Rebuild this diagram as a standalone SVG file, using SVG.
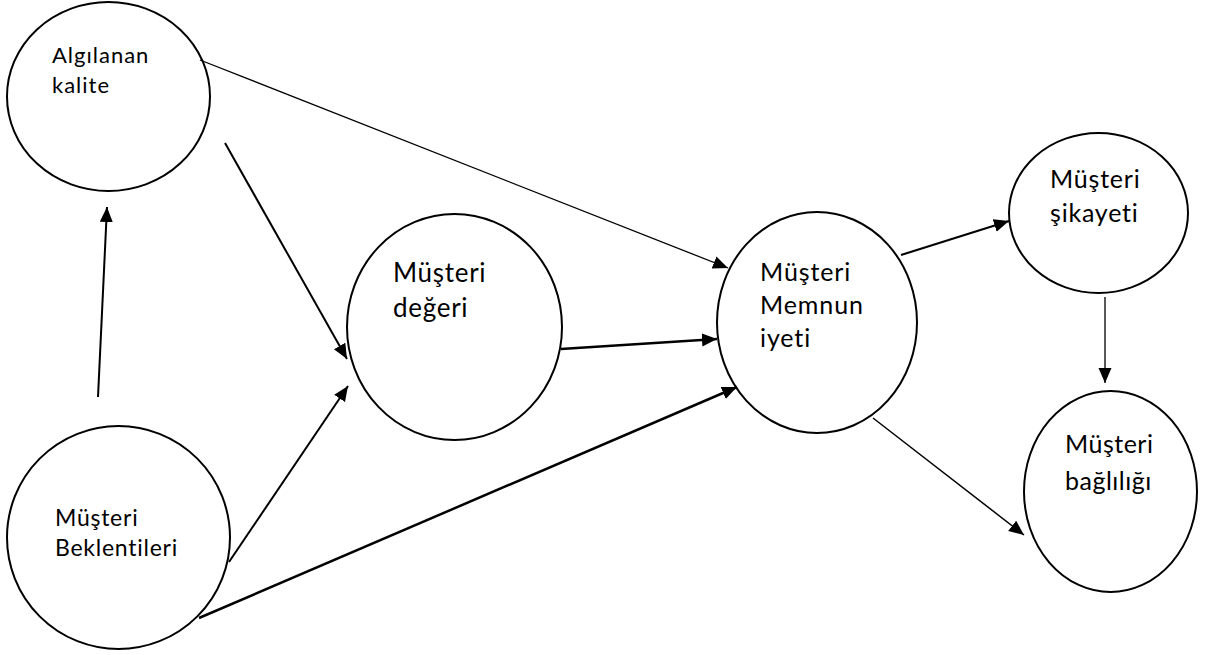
<svg xmlns="http://www.w3.org/2000/svg" width="1226" height="655" viewBox="0 0 1226 655">
<style>
.node ellipse{fill:#fff;stroke:#000;stroke-width:2}
.node text{font-family:Lato,"Liberation Sans",sans-serif;fill:#000}
#connectors line{stroke:#000;fill:none}
</style>
<defs>
<marker id="ah" markerUnits="userSpaceOnUse" markerWidth="16" markerHeight="14" refX="15" refY="6.5" orient="auto">
<path d="M0,0 L15,6.5 L0,13 z" fill="#000"/>
</marker>
</defs>
<rect width="1226" height="655" fill="#fff"/>
<g id="n-algilanan" class="node">
<ellipse cx="108.5" cy="96.5" rx="101.5" ry="94.5"/>
<text font-size="22" letter-spacing="1"><tspan x="52" y="63">Algılanan</tspan><tspan x="52" y="93">kalite</tspan></text>
</g>
<g id="n-beklentiler" class="node">
<ellipse cx="118.5" cy="537.5" rx="111.5" ry="111.5"/>
<text font-size="23" letter-spacing="0.75"><tspan x="55" y="526">Müşteri</tspan><tspan x="55" y="556">Beklentileri</tspan></text>
</g>
<g id="n-deger" class="node">
<ellipse cx="454.5" cy="327" rx="107.5" ry="113"/>
<text font-size="26" letter-spacing="0.7"><tspan x="393" y="282">Müşteri</tspan><tspan x="393" y="317">değeri</tspan></text>
</g>
<g id="n-memnuniyet" class="node">
<ellipse cx="817" cy="322.5" rx="100" ry="110.5"/>
<text font-size="25" letter-spacing="0.9"><tspan x="760" y="281">Müşteri</tspan><tspan x="760" y="314">Memnun</tspan><tspan x="760" y="347">iyeti</tspan></text>
</g>
<g id="n-sikayet" class="node">
<ellipse cx="1098.5" cy="213" rx="89.5" ry="80"/>
<text font-size="25" letter-spacing="0.8"><tspan x="1050" y="188">Müşteri</tspan><tspan x="1050" y="222">şikayeti</tspan></text>
</g>
<g id="n-baglilik" class="node">
<ellipse cx="1110.5" cy="491.5" rx="86.5" ry="100.5"/>
<text font-size="25" letter-spacing="0.5"><tspan x="1065" y="453">Müşteri</tspan><tspan x="1065" y="490">bağlılığı</tspan></text>
</g>
<g id="connectors">
<line x1="98" y1="397" x2="107" y2="207" stroke-width="2" marker-end="url(#ah)"/>
<line x1="225" y1="143" x2="347" y2="359" stroke-width="2" marker-end="url(#ah)"/>
<line x1="200" y1="60" x2="728" y2="268" stroke-width="1.3" marker-end="url(#ah)"/>
<line x1="229" y1="562" x2="348" y2="386" stroke-width="2" marker-end="url(#ah)"/>
<line x1="199" y1="618" x2="737" y2="387" stroke-width="2.5" marker-end="url(#ah)"/>
<line x1="561" y1="349" x2="717" y2="339" stroke-width="2.5" marker-end="url(#ah)"/>
<line x1="901" y1="255" x2="1009" y2="221" stroke-width="2" marker-end="url(#ah)"/>
<line x1="1105" y1="297" x2="1105" y2="383" stroke-width="1.3" marker-end="url(#ah)"/>
<line x1="873" y1="418" x2="1024" y2="535" stroke-width="1.5" marker-end="url(#ah)"/>
</g>
</svg>
